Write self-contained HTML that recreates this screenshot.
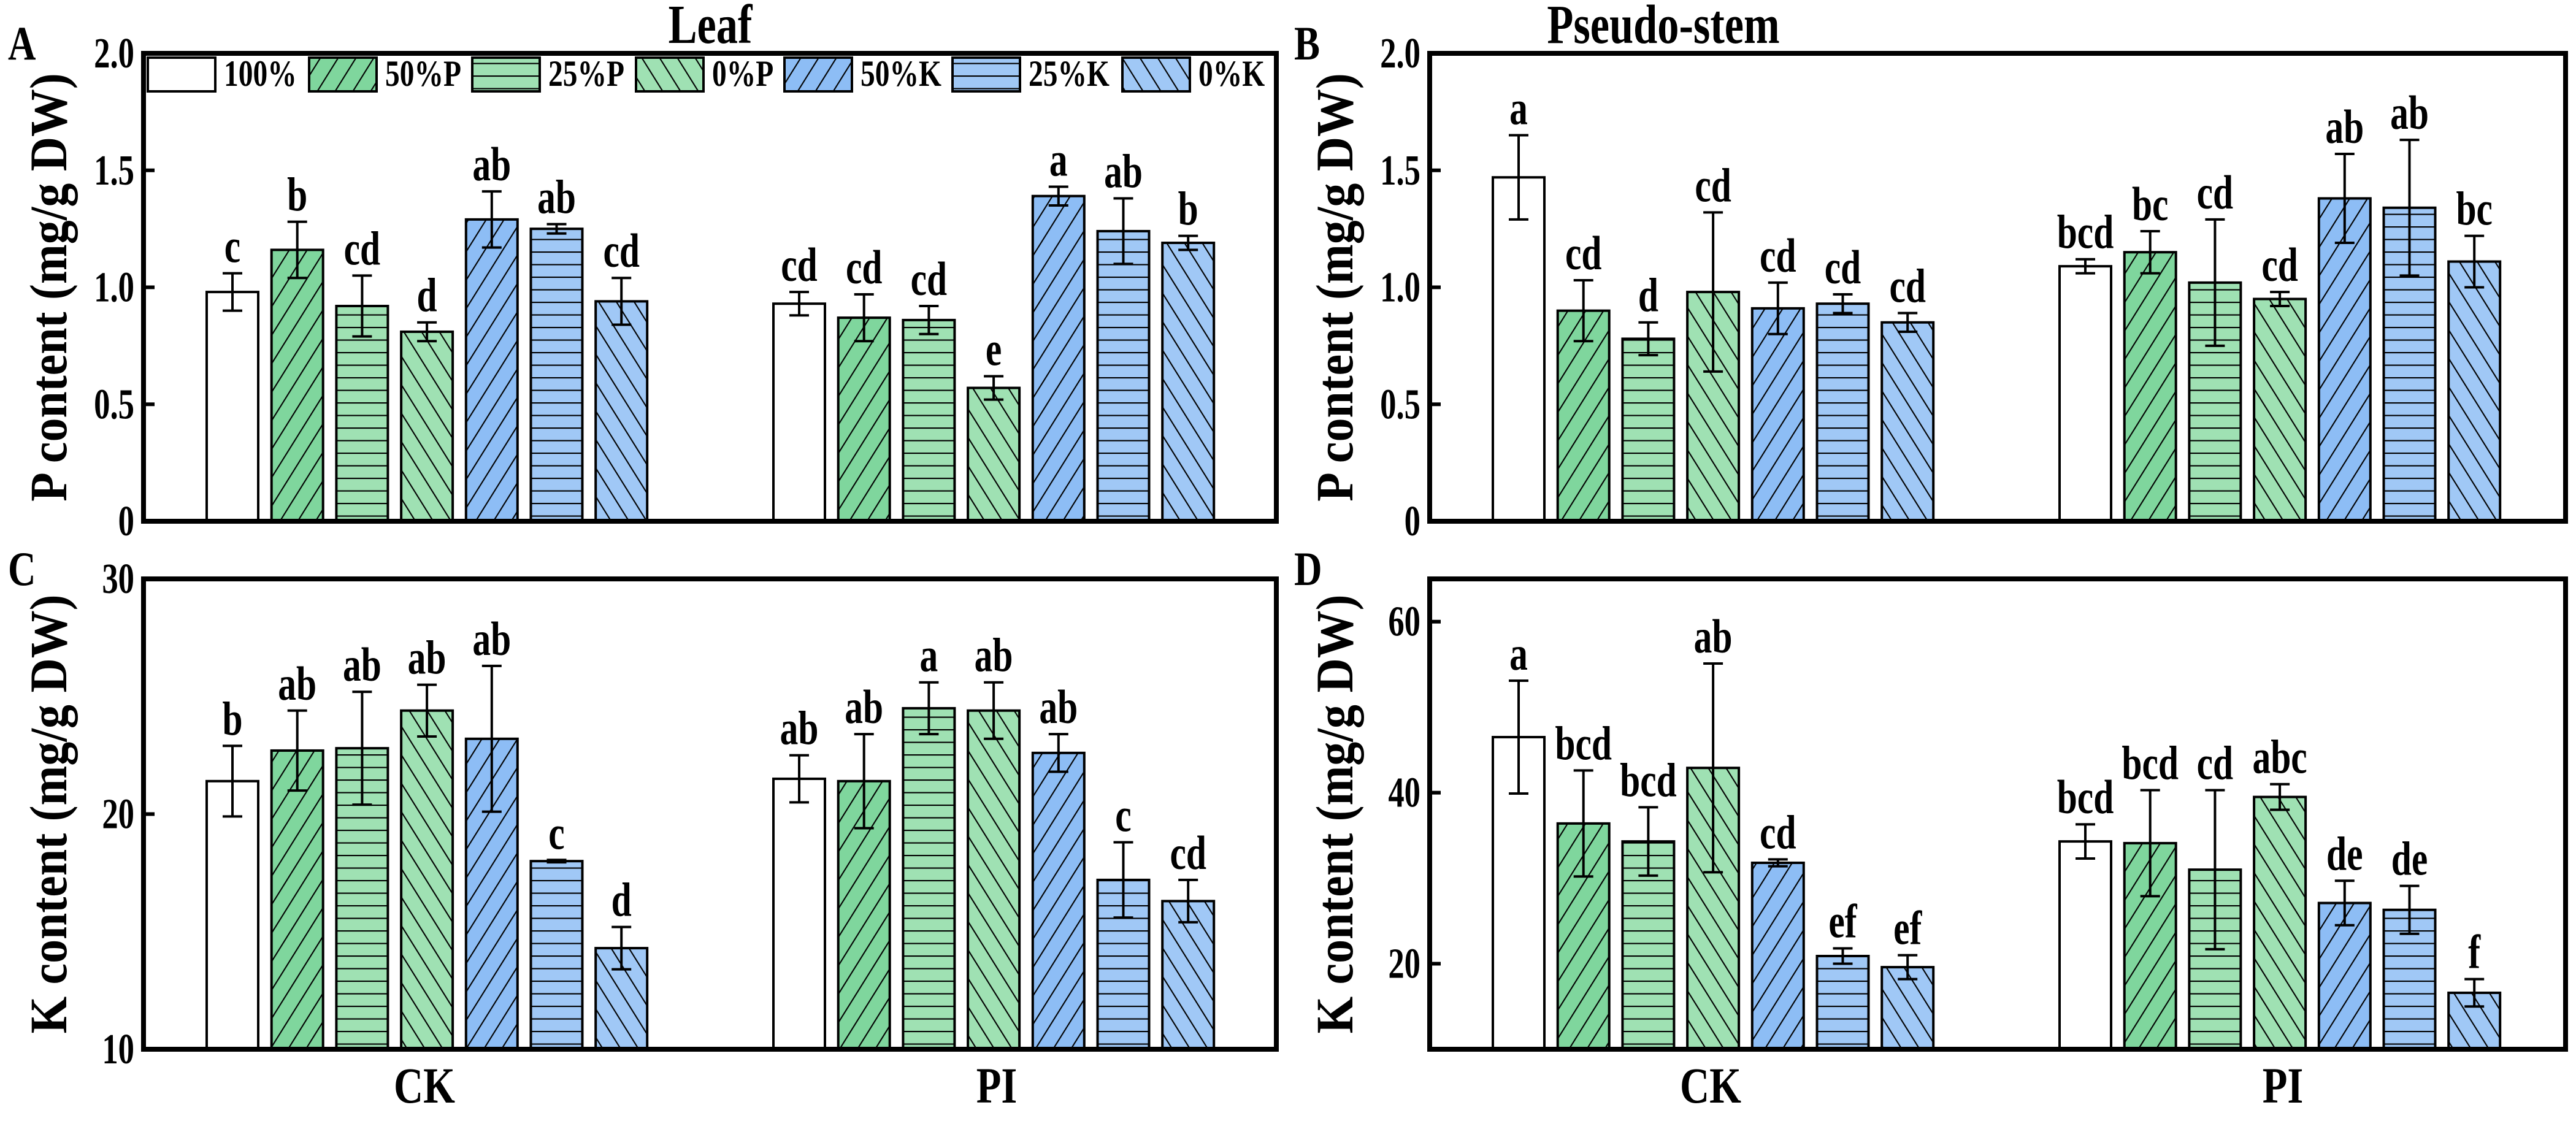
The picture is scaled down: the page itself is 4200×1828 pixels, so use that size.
<!DOCTYPE html>
<html><head><meta charset="utf-8"><style>
html,body{margin:0;padding:0;background:#fff;}
svg{display:block;font-family:"Liberation Serif",serif;font-weight:bold;}
</style></head><body>
<svg id="fig" width="4200" height="1828" viewBox="0 0 4200 1828" xmlns="http://www.w3.org/2000/svg">
<defs>
<pattern id="hF" patternUnits="userSpaceOnUse" width="24.6" height="20" patternTransform="rotate(32)"><line x1="1" y1="0" x2="1" y2="20" stroke="#000" stroke-width="2.2"/></pattern>
<pattern id="hB" patternUnits="userSpaceOnUse" width="24.6" height="20" patternTransform="rotate(-32)"><line x1="1" y1="0" x2="1" y2="20" stroke="#000" stroke-width="2.2"/></pattern>
<pattern id="hH" patternUnits="userSpaceOnUse" width="20" height="20.5"><line x1="0" y1="1" x2="20" y2="1" stroke="#000" stroke-width="2.2"/></pattern>
</defs>
<g id="root"></g>
</svg>
<script>
// ---- data ----
const treatments = ["100%","50%P","25%P","0%P","50%K","25%K","0%K"];
const groups = ["CK","PI"];
const aMeans = [[0.98,1.16,0.92,0.81,1.29,1.25,0.94],[0.93,0.87,0.86,0.57,1.39,1.24,1.19]];
const aErrs  = [[0.08,0.12,0.13,0.04,0.12,0.02,0.10],[0.05,0.10,0.06,0.05,0.04,0.14,0.03]];
const aLetters = [["c","b","cd","d","ab","ab","cd"],["cd","cd","cd","e","a","ab","b"]];
const bMeans = [[1.47,0.90,0.78,0.98,0.91,0.93,0.85],[1.09,1.15,1.02,0.95,1.38,1.34,1.11]];
const bErrs  = [[0.18,0.13,0.07,0.34,0.11,0.04,0.04],[0.03,0.09,0.27,0.03,0.19,0.29,0.11]];
const bLetters = [["a","cd","d","cd","cd","cd","cd"],["bcd","bc","cd","cd","ab","ab","bc"]];
const cMeans = [[21.4,22.7,22.8,24.4,23.2,18.0,14.3],[21.5,21.4,24.5,24.4,22.6,17.2,16.3]];
const cErrs  = [[1.5,1.7,2.4,1.1,3.1,0.05,0.9],[1.0,2.0,1.1,1.2,0.8,1.6,0.9]];
const cLetters = [["b","ab","ab","ab","ab","c","d"],["ab","ab","a","ab","ab","c","cd"]];
const dMeans = [[46.5,36.4,34.3,42.9,31.8,20.9,19.6],[34.3,34.1,31.0,39.5,27.1,26.3,16.6]];
const dErrs  = [[6.6,6.2,4.0,12.2,0.4,0.9,1.4],[2.0,6.2,9.3,1.5,2.6,2.8,1.6]];
const dLetters = [["a","bcd","bcd","ab","cd","ef","ef"],["bcd","bcd","cd","abc","de","de","f"]];
const pTicks = [0,0.5,1.0,1.5,2.0];
const pTickLabels = ["0","0.5","1.0","1.5","2.0"];
const cTicks = [10,20,30];
const cTickLabels = ["10","20","30"];
const dTicks = [20,40,60];
const dTickLabels = ["20","40","60"];

const fills = ["#ffffff","#7fd69d","#9fe1b3","#9fe1b3","#8dbdf5","#a0c8f6","#a0c8f6"];
const hatches = [null,"hF","hH","hB","hF","hH","hB"];
const NS="http://www.w3.org/2000/svg";
const root=document.getElementById('root');
const SY=1.12;
function mk(tag,attrs,parent){const e=document.createElementNS(NS,tag);for(const k in attrs)e.setAttribute(k,attrs[k]);(parent||root).appendChild(e);return e;}
function txt(s,attrs,parent){const e=mk('text',attrs,parent);e.textContent=s;return e;}
function txtS(s,x,y,size,sx,anchor,parent){return txt(s,{x:0,y:0,'font-size':size,'text-anchor':anchor,transform:`translate(${x},${y}) scale(${sx},${SY})`},parent);}

const panels=[
 {id:"a",letter:"A",x0:234,x1:2081,y0:87,y1:850,min:0,max:2,ticks:pTicks,tl:pTickLabels,m:aMeans,e:aErrs,l:aLetters,ylab:"P content (mg/g DW)",title:"Leaf",tx:1158,legend:true,xlab:false},
 {id:"b",letter:"B",x0:2331,x1:4183,y0:87,y1:850,min:0,max:2,ticks:pTicks,tl:pTickLabels,m:bMeans,e:bErrs,l:bLetters,ylab:"P content (mg/g DW)",title:"Pseudo-stem",tx:2712,legend:false,xlab:false},
 {id:"c",letter:"C",x0:234,x1:2081,y0:944,y1:1711,min:10,max:30,ticks:cTicks,tl:cTickLabels,m:cMeans,e:cErrs,l:cLetters,ylab:"K content (mg/g DW)",legend:false,xlab:true},
 {id:"d",letter:"D",x0:2331,x1:4183,y0:944,y1:1711,min:10,max:65,ticks:dTicks,tl:dTickLabels,m:dMeans,e:dErrs,l:dLetters,ylab:"K content (mg/g DW)",legend:false,xlab:true}
];

panels.forEach(p=>{
  const g=mk('g',{});
  
  
  const y=v=>p.y1-(v-p.min)/(p.max-p.min)*(p.y1-p.y0);
  const bx=(gi,ti)=>p.x0+103+gi*924+ti*105.7;
  const pl=txtS(p.letter,p.x0-221,p.y0+10,70,0.9,'start',g);
  
  
  if(p.title){const t=txtS(p.title,p.tx,70,80,0.88,'middle',g);
    
    }
  const cy=(p.y0+p.y1)/2;
  const yl=txt(p.ylab,{x:0,y:0,'font-size':82,'text-anchor':'middle',transform:`translate(${p.x0-126},${cy}) rotate(-90) scale(0.95,1.05)`},g);
  
  
  groups.forEach((gn,gi)=>{
    treatments.forEach((tn,ti)=>{
      const x=bx(gi,ti), v=p.m[gi][ti], er=p.e[gi][ti], top=y(v);
      const r=mk('rect',{x:x,y:top,width:84,height:p.y1-top,fill:fills[ti]},g);
      
      
      if(hatches[ti]){mk('rect',{x:x,y:top,width:84,height:p.y1-top,fill:`url(#${hatches[ti]})`},g);}
      mk('rect',{x:x,y:top,width:84,height:p.y1-top,fill:'none',stroke:'#000','stroke-width':4},g);
      const cx=x+42, et=y(v+er), eb=y(v-er);
      const eg=mk('g',{stroke:'#000','stroke-width':4},g);
      
      
      mk('line',{x1:cx,y1:et,x2:cx,y2:eb},eg);
      mk('line',{x1:cx-16,y1:et,x2:cx+16,y2:et},eg);
      mk('line',{x1:cx-16,y1:eb,x2:cx+16,y2:eb},eg);
      const lt=txtS(p.l[gi][ti],cx,et-18,70,0.85,'middle',g);
      
      
    });
    if(p.xlab){const xl=txtS(gn,p.x0+458+gi*933,1798,74,0.9,'middle',g);
      
      }
  });
  p.ticks.forEach((t,i)=>{
    const yy=y(t);
    if(t>p.min && t<p.max) mk('line',{x1:p.x0,y1:yy,x2:p.x0+18,y2:yy,stroke:'#000','stroke-width':6},g);
    const tl=txtS(p.tl[i],p.x0-15,yy+23,62,0.85,'end',g);
    
    
  });
  const fr=mk('rect',{x:p.x0,y:p.y0,width:p.x1-p.x0,height:p.y1-p.y0,fill:'none',stroke:'#000','stroke-width':8},g);
  
  
  if(p.legend){
    const lg=mk('g',{},g);
    
    
    const lx=[241,504,770,1037,1279,1553,1830];
    treatments.forEach((tn,ti)=>{
      const en=mk('g',{},lg);
      
      
      mk('rect',{x:lx[ti],y:94,width:110,height:55,fill:fills[ti]},en);
      if(hatches[ti]) mk('rect',{x:lx[ti],y:94,width:110,height:55,fill:`url(#${hatches[ti]})`},en);
      mk('rect',{x:lx[ti],y:94,width:110,height:55,fill:'none',stroke:'#000','stroke-width':4},en);
      txtS(tn,lx[ti]+124,140,54,0.88,'start',en);
    });
  }
});
</script>
</body></html>
